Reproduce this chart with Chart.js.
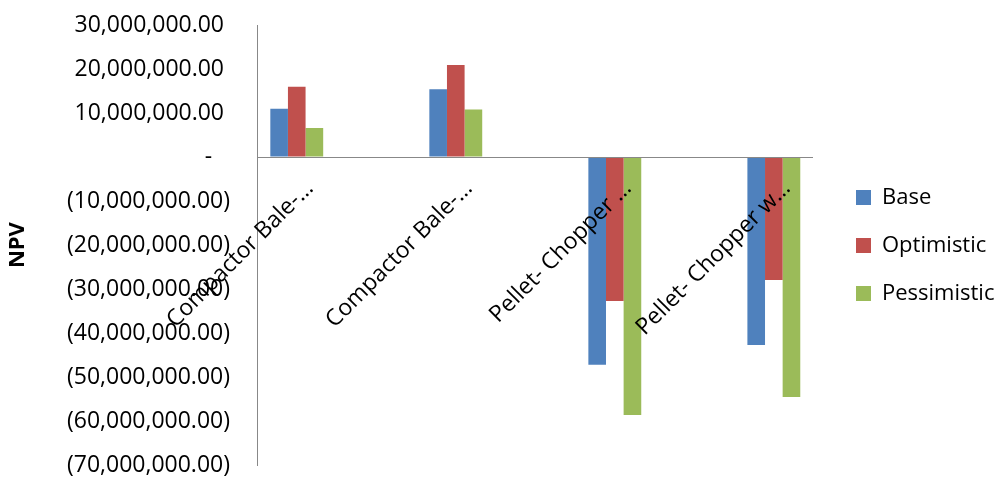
<!DOCTYPE html>
<html>
<head>
<meta charset="utf-8">
<script src="https://cdn.jsdelivr.net/npm/chart.js@4"></script>
<style>
  html, body { margin: 0; padding: 0; background: #fff; }
  #wrap { width: 998px; height: 479px; position: relative; }
</style>
</head>
<body>
<div id="wrap"><canvas id="npvChart"></canvas></div>
<script>
// DATA
let categories = ["Compactor Bale-\u2026", "Compactor Bale-\u2026", "Pellet- Chopper \u2026", "Pellet- Chopper w\u2026"];
let base        = [11000000, 15400000, -47200000, -42700000];
let optimistic  = [16000000, 20900000, -32700000, -27900000];
let pessimistic = [6600000, 10800000, -58600000, -54500000];

let yTickValues = [30000000, 20000000, 10000000, 0, -10000000, -20000000, -30000000, -40000000, -50000000, -60000000, -70000000];
let yTickLabels = ["30,000,000.00 ", "20,000,000.00 ", "10,000,000.00 ", "-   ",
    "(10,000,000.00)", "(20,000,000.00)", "(30,000,000.00)", "(40,000,000.00)",
    "(50,000,000.00)", "(60,000,000.00)", "(70,000,000.00)"];

const FONT = "'Open Sans', sans-serif";

function series(values) {
    return values.map((v, i) => ({x: i, y: v}));
}

new Chart(document.getElementById("npvChart"), {
    type: 'bar',
    data: {
        datasets: [
            {label: 'Base', data: series(base), backgroundColor: '#4F81BD'},
            {label: 'Optimistic', data: series(optimistic), backgroundColor: '#C0504D'},
            {label: 'Pessimistic', data: series(pessimistic), backgroundColor: '#9BBB59'}
        ]
    },
    options: {
        responsive: true,
        maintainAspectRatio: false,
        animation: false,
        layout: { padding: {top: 25, bottom: 13, left: 0, right: 2} },
        datasets: { bar: { categoryPercentage: 0.3325, barPercentage: 1 } },
        plugins: {
            tooltip: { enabled: false },
            legend: {
                position: 'right',
                labels: {
                    boxWidth: 15, boxHeight: 15, padding: 26, color: '#000',
                    font: { family: FONT, size: 22 }
                }
            }
        },
        scales: {
            x: {
                type: 'linear',
                position: { y: 0 },
                offset: false,
                min: -0.25,
                max: 3.24,
                afterBuildTicks: s => { s.ticks = categories.map((c, i) => ({value: i})); },
                grid: { display: false, drawTicks: false },
                border: { display: true, color: '#888', width: 1, z: 1 },
                ticks: {
                    autoSkip: false, minRotation: 45, maxRotation: 45, padding: 18, labelOffset: 13, z: 1,
                    color: '#000', font: { family: FONT, size: 23 },
                    callback: v => categories[v]
                }
            },
            y: {
                type: 'linear',
                position: 'left',
                min: -70000000,
                max: 30000000,
                afterBuildTicks: s => { s.ticks = yTickValues.map(v => ({value: v})); },
                afterFit: s => { s.width = 257; },
                grid: { display: true, drawOnChartArea: false, drawTicks: true, tickLength: 27, tickColor: 'rgba(0,0,0,0)', color: 'rgba(0,0,0,0)' },
                border: { display: true, color: '#888', width: 1 },
                ticks: {
                    padding: 0, color: '#000', font: { family: FONT, size: 23 },
                    callback: v => yTickLabels[yTickValues.indexOf(v)]
                },
                title: {
                    display: true, text: 'NPV', color: '#000',
                    font: { family: FONT, size: 22, weight: 'bold' },
                    padding: { top: 5, bottom: 0 }
                }
            },
            spacer: {
                type: 'linear',
                position: 'right',
                display: true,
                grid: { display: false, drawTicks: false },
                border: { display: false },
                ticks: { display: false },
                afterFit: s => { s.width = 18; }
            }
        }
    }
});
</script>
</body>
</html>
